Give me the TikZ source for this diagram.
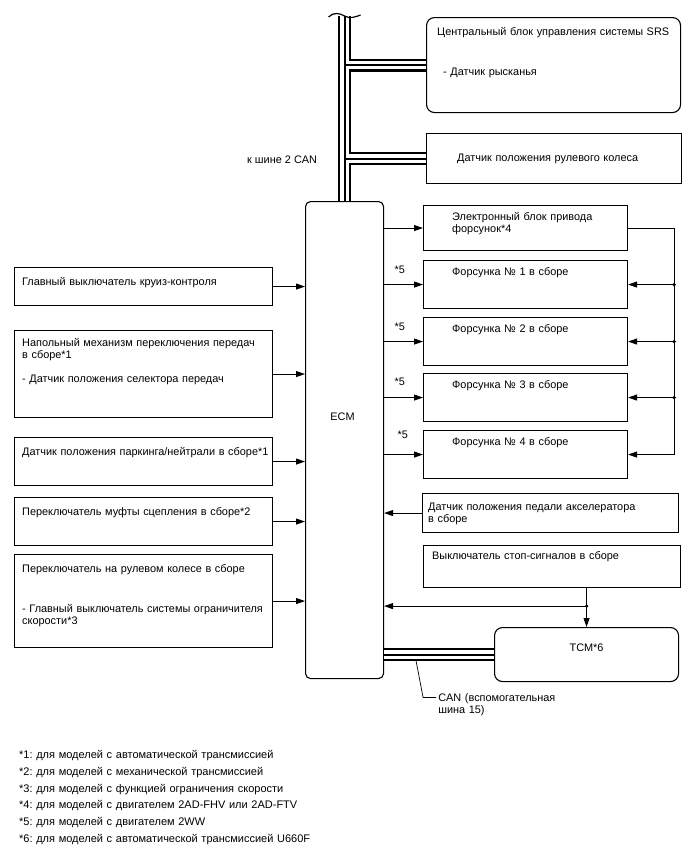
\documentclass[tikz,border=0pt]{standalone}
\usepackage{fontspec}
\setmainfont{Liberation Sans}
\usetikzlibrary{arrows.meta,calc}
\frenchspacing

\begin{document}
\begin{tikzpicture}[
    x=1pt, y=-1pt,
    every node/.style={font=\fontsize{10.9}{12}\selectfont},
    box/.style={draw, line width=1.1pt, anchor=north west, inner sep=0pt},
    rbox/.style={box, rounded corners=8pt},
    txt/.style={anchor=base west, inner sep=0pt, text width=280pt, align=left},
    notes/.style={txt, text width=400pt, font=\fontsize{11}{16.8}\selectfont},
    sig/.style={-{Triangle[length=9pt,width=6pt]}, line width=0.9pt},
    wire/.style={line width=0.9pt},
    busout/.style={line width=13pt},
    busgap/.style={line width=8.5pt, white},
    buscore/.style={line width=2pt},
    dot/.style={circle, fill, inner sep=0pt, minimum size=3.8pt}
]
\useasboundingbox (0,0) rectangle (688,852);

% ECM and the CAN side
\node[rbox, rounded corners=5pt, minimum width=78, minimum height=477] (ecm) at (305,201) {};
\node[anchor=base] (ecm-t) at ($(ecm.north)+(-2,219)$) {ECM};

\node[rbox, minimum width=254, minimum height=95] (srs) at (426,17) {};
\node[txt] (srs-t) at ($(srs.north west)+(11,18.5)$) {Центральный блок управления системы SRS\\[28pt]\hspace*{6pt}- Датчик рысканья};
\node[box, minimum width=255, minimum height=50] (whl) at (426,133) {};
\node[txt] (whl-t) at ($(whl.north west)+(31,28.5)$) {Датчик положения рулевого колеса};

% right column
\node[box, minimum width=204, minimum height=45] (drv) at (423,205) {};
\node[txt] (drv-t) at ($(drv.north west)+(29,15.5)$) {Электронный блок привода\\форсунок*4};
\node[box, minimum width=204, minimum height=48] (inj1) at (423,260) {};
\node[box, minimum width=204, minimum height=48] (inj2) at (423,317) {};
\node[box, minimum width=204, minimum height=48] (inj3) at (423,373) {};
\node[box, minimum width=204, minimum height=48] (inj4) at (423,430) {};
\foreach \n in {1,...,4}
  \node[txt] (inj\n-t) at ($(inj\n.north west)+(29,15)$) {Форсунка № \n\ в сборе};
\node[box, minimum width=256, minimum height=39] (app) at (422,493) {};
\node[txt] (app-t) at ($(app.north west)+(6,17.5)$) {Датчик положения педали акселератора\\в сборе};
\node[box, minimum width=257, minimum height=42] (stp) at (423,545) {};
\node[txt] (stp-t) at ($(stp.north west)+(9,14.5)$) {Выключатель стоп-сигналов в сборе};
\node[rbox, minimum width=184, minimum height=54] (tcm) at (494,627) {};
\node[anchor=base] (tcm-t) at ($(tcm.north)+(0,24)$) {TCM*6};

% left column
\node[box, minimum width=258, minimum height=38] (cruise) at (14,267) {};
\node[txt] (cruise-t) at ($(cruise.north west)+(8,18)$) {Главный выключатель круиз-контроля};
\node[box, minimum width=258, minimum height=87] (shift) at (14,330) {};
\node[txt] (shift-t) at ($(shift.north west)+(8,16)$) {Напольный механизм переключения передач\\в сборе*1\\[12pt]- Датчик положения селектора передач};
\node[box, minimum width=258, minimum height=48] (pnp) at (14,437) {};
\node[txt] (pnp-t) at ($(pnp.north west)+(8,18)$) {Датчик положения паркинга/нейтрали в сборе*1};
\node[box, minimum width=258, minimum height=48] (clutch) at (14,497) {};
\node[txt] (clutch-t) at ($(clutch.north west)+(8,18.5)$) {Переключатель муфты сцепления в сборе*2};
\node[box, minimum width=258, minimum height=93] (swsw) at (14,554) {};
\node[txt] (swsw-t) at ($(swsw.north west)+(8,18.5)$) {Переключатель на рулевом колесе в сборе\\[28pt]- Главный выключатель системы ограничителя\\скорости*3};

% CAN buses
\foreach \lay in {busout,busgap,buscore}
  \draw[\lay] (ecm.north) -- ++(0,-185)
              (ecm.north |- srs.west) -- (srs.west)
              (ecm.north |- whl.west) -- (whl.west);
\coordinate (bustop) at ($(ecm.north)+(0,-185)$);
\draw[line width=1.2pt] ($(bustop)+(-16,1)$) .. controls ++(5,-5) and ++(-5,-3) .. ++(16,-1)
      .. controls ++(5,3) and ++(-5,2) .. ++(16,-1);
\node[anchor=base east] (can2) at ($(ecm.north |- whl.west)+(-24,5)$) {к шине 2 CAN};

\foreach \lay in {busout,busgap,buscore}
  \draw[\lay] (tcm.west -| ecm.east) -- (tcm.west);
\coordinate (canpt) at ($(tcm.west -| ecm.east)+(32,6.5)$);
\draw[line width=0.7pt] (canpt) -- ++(7,36.5) -- ++(13,0);
\node[txt] (can-t) at ($(canpt)+(22,40.5)$) {CAN (вспомогательная\\шина 15)};

% signal lines
\foreach \b in {cruise,shift,pnp,clutch,swsw}
  \draw[sig] (\b.east) -- (\b.east -| ecm.west);
\foreach \b in {drv,inj1,inj2,inj3,inj4}
  \draw[sig] (\b.west -| ecm.east) -- (\b.west);
\draw[sig] (app.west) -- (app.west -| ecm.east);
\foreach \b/\dx/\dy in {inj1/7/13.5,inj2/7/13.5,inj3/7/12.5,inj4/10/8}
  \node[anchor=base west] (\b-n) at ($(\b.north -| ecm.east)+(\dx,\dy)$) {*5};

\coordinate (rb) at ($(drv.east)+(46,0)$);
\draw[sig] (drv.east) -- (rb) -- (rb |- inj4.east) -- (inj4.east);
\foreach \b in {inj1,inj2,inj3}{
  \draw[sig] (rb |- \b.east) -- (\b.east);
  \node[dot] (\b-d) at (rb |- \b.east) {};
}

\coordinate (sj) at ($(stp.south -| tcm.north)+(0,18)$);
\draw[sig] (stp.south -| tcm.north) -- (tcm.north);
\draw[sig] (sj) -- (sj -| ecm.east);
\node[dot] (sj-d) at (sj) {};

% footnotes
\node[notes] (notes) at (19,758.5) {{*}1: для моделей с автоматической трансмиссией\\
{*}2: для моделей с механической трансмиссией\\
{*}3: для моделей с функцией ограничения скорости\\
{*}4: для моделей с двигателем 2AD-FHV или 2AD-FTV\\
{*}5: для моделей с двигателем 2WW\\
{*}6: для моделей с автоматической трансмиссией U660F};
\end{tikzpicture}
\end{document}
